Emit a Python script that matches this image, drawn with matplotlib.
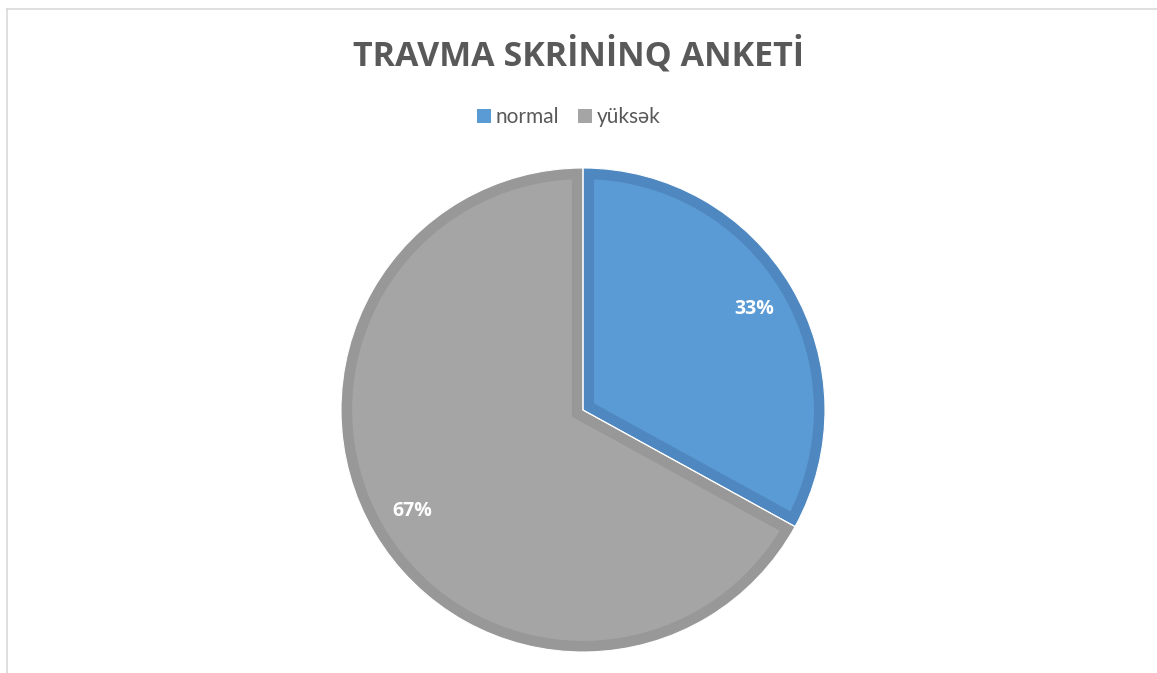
import matplotlib
matplotlib.use("Agg")
import matplotlib.pyplot as plt
from matplotlib.patches import Patch, Wedge
from matplotlib.lines import Line2D

categories = ["normal", "yüksək"]
values = [33, 67]
title = "TRAVMA SKRİNİNQ ANKETİ"

fill_colors = ["#5B9BD5", "#A5A5A5"]
edge_colors = ["#4F88C0", "#989898"]

W, H = 1157, 673
fig = plt.figure(figsize=(W / 100, H / 100), dpi=100)
fig.patch.set_facecolor("white")

# chart frame
fig.add_artist(Line2D([6.5 / W, 6.5 / W], [0, 1 - 8.5 / H], color="#D9D9D9", lw=1.2))
fig.add_artist(Line2D([6.5 / W, 1], [1 - 8.5 / H, 1 - 8.5 / H], color="#D9D9D9", lw=1.2))

cx, cy, r = 583, 410, 242
ax = fig.add_axes([(cx - r) / W, (H - cy - r) / H, 2 * r / W, 2 * r / H])
wedges, texts, autotexts = ax.pie(
    values, colors=fill_colors, startangle=90, counterclock=False,
    autopct=lambda p: f"{p:.0f}%", pctdistance=0.82,
    wedgeprops=dict(edgecolor="white", linewidth=0.8),
    textprops=dict(color="white", fontsize=14, fontweight="bold", family="Open Sans"),
)
# inner darker border (Excel style)
for w, ec in zip(wedges, edge_colors):
    iw = Wedge(w.center, w.r, w.theta1, w.theta2, facecolor="none",
               edgecolor=ec, linewidth=16, zorder=w.get_zorder() + 0.1)
    ax.add_patch(iw)
    iw.set_clip_path(w)
    sep = Wedge(w.center, w.r, w.theta1, w.theta2, facecolor="none",
                edgecolor="white", linewidth=0.8, zorder=w.get_zorder() + 0.2)
    ax.add_patch(sep)
for t in autotexts:
    t.set_zorder(10)
ax.set_xlim(-1, 1)
ax.set_ylim(-1, 1)
ax.set_aspect("equal")
ax.axis("off")

fig.text(579 / W, 1 - 55 / H, title, ha="center", va="center", fontsize=24.5,
         fontweight="bold", color="#595959", family="Open Sans")

handles = [Patch(facecolor=c, edgecolor="none") for c in fill_colors]
fig.legend(handles, categories, loc="center", bbox_to_anchor=(569 / W, 1 - 117 / H),
           ncol=2, frameon=False, prop=dict(family="Lato", size=15),
           labelcolor="#595959", handlelength=0.65, handleheight=0.65,
           handletextpad=0.25, columnspacing=0.9)

fig.savefig("out.png", dpi=100, facecolor="white")
